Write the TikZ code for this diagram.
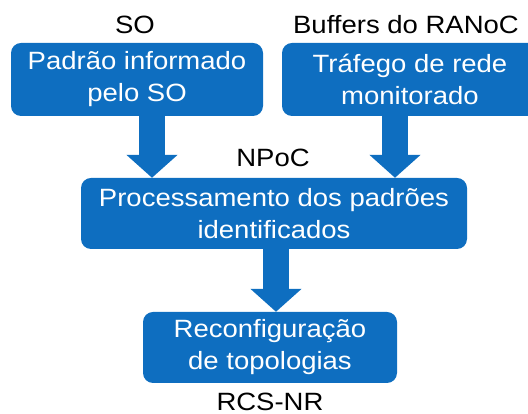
\documentclass[tikz,border=0pt]{standalone}
\usepackage{fontspec}
\setmainfont{Liberation Sans}[FakeStretch=1.1]
\usetikzlibrary{positioning, arrows.meta}
\definecolor{azul}{RGB}{14,110,192}

\begin{document}
\begin{tikzpicture}[x=1pt, y=1pt, font=\fontsize{25}{32}\selectfont,
        caixa/.style={fill=azul, draw=none, rounded corners=10pt, text=white, align=center, inner sep=0pt},
        rotulo/.style={inner sep=0pt},
        seta/.style={azul, line width=26pt, -{Triangle[width=50pt, length=23pt]}}]
        \useasboundingbox (0,0) rectangle (528,414);

        \node[caixa, minimum width=252pt, minimum height=73pt] (padrao) at (137,334.5) {Padrão informado\\pelo SO};
        \node[caixa, minimum width=256pt, minimum height=73pt] (trafego) at (410,334.5) {Tráfego de rede\\monitorado};
        \node[caixa, minimum width=386pt, minimum height=71pt] (proc) at (274,200.5) {Processamento dos padrões\\identificados};
        \node[caixa, minimum width=254pt, minimum height=71pt] (reconf) at (270,66.5) {Reconfiguração\\de topologias};

        \node[rotulo] (so) at (135,389) {SO};
        \node[rotulo] (buffers) at (406,389) {Buffers do RANoC};
        \node[rotulo] (npoc) at (273,256) {NPoC};
        \node[rotulo] (rcs) at (270,12) {RCS-NR};

        \draw[seta] ([xshift=15pt]padrao.south) -- ([xshift=15pt]padrao.south |- proc.north);
        \draw[seta] ([xshift=-15pt]trafego.south) -- ([xshift=-15pt]trafego.south |- proc.north);
        \draw[seta] ([xshift=2pt]proc.south) -- ([xshift=2pt]proc.south |- reconf.north);
      \end{tikzpicture}
\end{document}
